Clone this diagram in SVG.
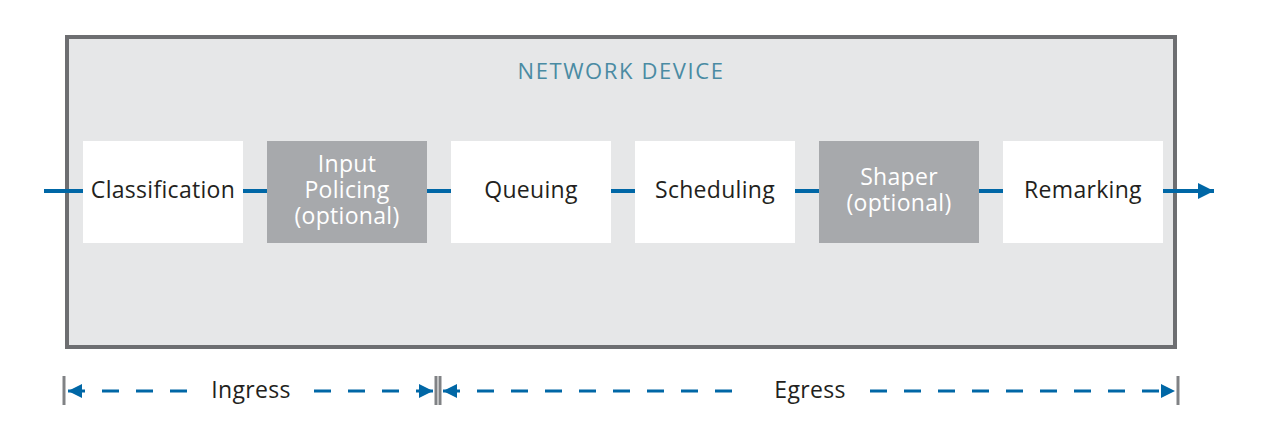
<svg xmlns="http://www.w3.org/2000/svg" width="1266" height="436" viewBox="0 0 1266 436">
<defs>
<style>
.lbl{font-family:"Open Sans","Liberation Sans",sans-serif;font-size:23px;fill:#231f20;text-anchor:middle;letter-spacing:0.3px}
.wl{fill:#ffffff}
.box{fill:#ffffff}
.gbox{fill:#a7a9ac}
.flow{stroke:#0067a6;stroke-width:4;fill:none}
.dash{stroke:#0067a6;stroke-width:3;fill:none;stroke-dasharray:17 17}
.bar{stroke:#808285;stroke-width:3}
</style>
<marker id="ah" viewBox="0 0 10 10" refX="10" refY="5" markerWidth="14" markerHeight="14" markerUnits="userSpaceOnUse" orient="auto-start-reverse"><path d="M0,0 L10,5 L0,10 Z" fill="#0067a6"/></marker>
<marker id="ahb" viewBox="0 0 10 10" refX="10" refY="5" markerWidth="16" markerHeight="16" markerUnits="userSpaceOnUse" orient="auto"><path d="M0,0 L10,5 L0,10 Z" fill="#0067a6"/></marker>
</defs>
<rect width="1266" height="436" fill="#ffffff"/>
<g id="device">
<rect x="67" y="37" width="1108" height="310" fill="#e6e7e8" stroke="#6d6e71" stroke-width="4"/>
<text x="621" y="79" style="font-family:'Open Sans','Liberation Sans',sans-serif;font-size:22px;fill:#4a8ba3;text-anchor:middle;letter-spacing:1.6px">NETWORK DEVICE</text>
</g>
<g id="connectors">
<line class="flow" x1="44" y1="191" x2="83" y2="191"/>
<line class="flow" x1="243" y1="191" x2="267" y2="191"/>
<line class="flow" x1="427" y1="191" x2="451" y2="191"/>
<line class="flow" x1="611" y1="191" x2="635" y2="191"/>
<line class="flow" x1="795" y1="191" x2="819" y2="191"/>
<line class="flow" x1="979" y1="191" x2="1003" y2="191"/>
<line class="flow" x1="1163" y1="191" x2="1214" y2="191" marker-end="url(#ahb)"/>
</g>
<g id="classification"><rect class="box" x="83" y="141" width="160" height="102"/><text class="lbl" x="163" y="198">Classification</text></g>
<g id="policing"><rect class="gbox" x="267" y="141" width="160" height="102"/><text class="lbl wl" x="347" y="172">Input</text><text class="lbl wl" x="347" y="198">Policing</text><text class="lbl wl" x="347" y="224">(optional)</text></g>
<g id="queuing"><rect class="box" x="451" y="141" width="160" height="102"/><text class="lbl" x="531" y="198">Queuing</text></g>
<g id="scheduling"><rect class="box" x="635" y="141" width="160" height="102"/><text class="lbl" x="715" y="198">Scheduling</text></g>
<g id="shaper"><rect class="gbox" x="819" y="141" width="160" height="102"/><text class="lbl wl" x="899" y="185">Shaper</text><text class="lbl wl" x="899" y="211">(optional)</text></g>
<g id="remarking"><rect class="box" x="1003" y="141" width="160" height="102"/><text class="lbl" x="1083" y="198">Remarking</text></g>
<g id="ingress">
<line class="bar" x1="64" y1="376" x2="64" y2="405"/>
<line class="bar" x1="436" y1="376" x2="436" y2="405"/>
<line class="dash" x1="68" y1="391" x2="189" y2="391" marker-start="url(#ah)"/>
<line class="dash" x1="312" y1="391" x2="433" y2="391" marker-end="url(#ah)" style="stroke-dashoffset:-2"/>
<text class="lbl" x="251" y="398">Ingress</text>
</g>
<g id="egress">
<line class="bar" x1="440" y1="376" x2="440" y2="405"/>
<line class="bar" x1="1178" y1="376" x2="1178" y2="405"/>
<line class="dash" x1="443" y1="391" x2="748" y2="391" marker-start="url(#ah)"/>
<line class="dash" x1="870" y1="391" x2="1175" y2="391" marker-end="url(#ah)"/>
<text class="lbl" x="810" y="398">Egress</text>
</g>
</svg>
